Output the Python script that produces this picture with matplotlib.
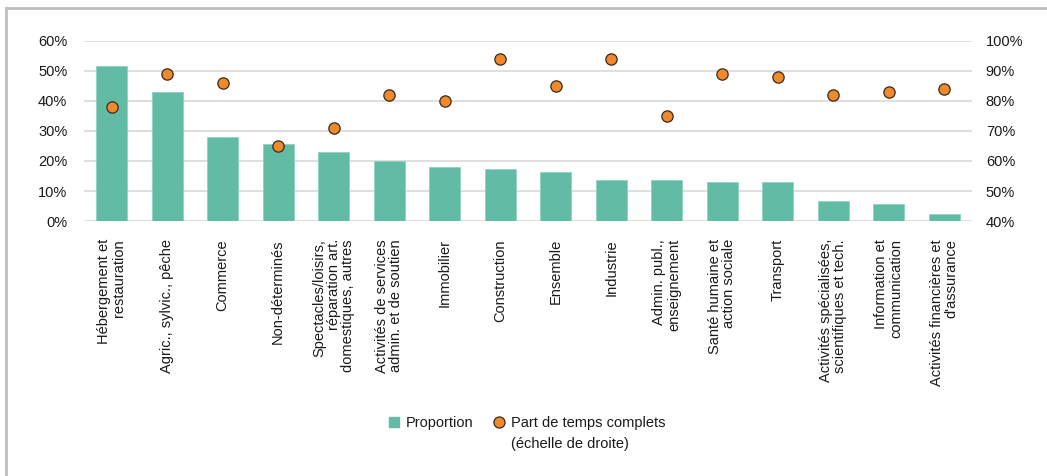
import matplotlib
matplotlib.use("Agg")
import matplotlib.pyplot as plt
from matplotlib.lines import Line2D
from matplotlib.ticker import FuncFormatter, MultipleLocator
import numpy as np

plt.rcParams['font.family'] = ['Liberation Sans', 'DejaVu Sans']

categories = [
    "Hébergement et\nrestauration",
    "Agric., sylvic., pêche",
    "Commerce",
    "Non-déterminés",
    "Spectacles/loisirs,\nréparation art.\ndomestiques, autres",
    "Activités de services\nadmin. et de soutien",
    "Immobilier",
    "Construction",
    "Ensemble",
    "Industrie",
    "Admin. publ.,\nenseignement",
    "Santé humaine et\naction sociale",
    "Transport",
    "Activités spécialisées,\nscientifiques et tech.",
    "Information et\ncommunication",
    "Activités financières et\nd'assurance",
]
proportion = [51.7, 43.0, 28.0, 25.8, 23.0, 20.0, 18.0, 17.3, 16.3, 13.6, 13.6, 13.0, 13.0, 6.7, 5.7, 2.2]
temps_complets = [78, 89, 86, 65, 71, 82, 80, 94, 85, 94, 75, 89, 88, 82, 83, 84]
legend_labels = ["Proportion", "Part de temps complets", "(échelle de droite)"]

bar_color = "#61BBA5"
dot_color = "#EE8A2C"
grid_color = "#D9D9D9"
text_color = "#1A1A1A"

fig = plt.figure(figsize=(10.47, 4.76), dpi=100)
ax = fig.add_axes([0.0802, 0.5357, 0.8481, 0.3782])
ax2 = ax.twinx()

x = np.arange(len(categories))
ax.bar(x, proportion, width=0.56, color=bar_color, edgecolor="#8FD3C2", linewidth=0.6, zorder=2)
ax2.scatter(x, temps_complets, s=66, color=dot_color, edgecolor="#3A2A1A", linewidth=0.9, zorder=3)

ax.set_xlim(-0.5, len(categories) - 0.5)
ax.set_ylim(0, 60)
ax2.set_ylim(40, 100)
ax.yaxis.set_major_locator(MultipleLocator(10))
ax2.yaxis.set_major_locator(MultipleLocator(10))
pct = FuncFormatter(lambda v, p: f"{v:.0f}%")
ax.yaxis.set_major_formatter(pct)
ax2.yaxis.set_major_formatter(pct)

ax.grid(axis='y', color=grid_color, linewidth=1.2, zorder=0)
ax.set_axisbelow(True)
for a in (ax, ax2):
    for s in a.spines.values():
        s.set_visible(False)

ax.tick_params(axis='y', length=0, pad=12, labelsize=10.5, labelcolor=text_color)
ax2.tick_params(axis='y', length=0, pad=10, labelsize=10.5, labelcolor=text_color)
ax.set_xticks(x)
ax.set_xticklabels(categories, rotation=90, ha='center', va='top', ma='right',
                   fontsize=10.5, color=text_color, linespacing=1.05)
ax.tick_params(axis='x', length=0, pad=13)

handles = [
    Line2D([], [], linestyle='none', marker='s', markersize=7, color=bar_color),
    Line2D([], [], linestyle='none', marker='o', markersize=8,
           markerfacecolor=dot_color, markeredgecolor="#3A2A1A", markeredgewidth=0.9),
]
leg = fig.legend(handles, legend_labels[:2],
                 loc='center', bbox_to_anchor=(0.503, 0.111), ncol=2, frameon=False,
                 fontsize=10.5, handletextpad=0.35, columnspacing=1.3, labelcolor=text_color,
                 handlelength=0.9)

fig.canvas.draw()
bb = leg.get_texts()[1].get_window_extent()
x0 = bb.x0 / fig.bbox.width
fig.text(x0, 1 - 444 / 476, legend_labels[2], ha='left', va='center',
         fontsize=10.5, color=text_color)

# partial grey frame (top and left)
fig.add_artist(Line2D([0.0062, 0.0062], [0.0, 0.983], transform=fig.transFigure,
                      color="#BFBFBF", linewidth=2))
fig.add_artist(Line2D([0.0062, 1.0], [0.983, 0.983], transform=fig.transFigure,
                      color="#BFBFBF", linewidth=2))

fig.savefig("out.png", dpi=100, facecolor="white")
